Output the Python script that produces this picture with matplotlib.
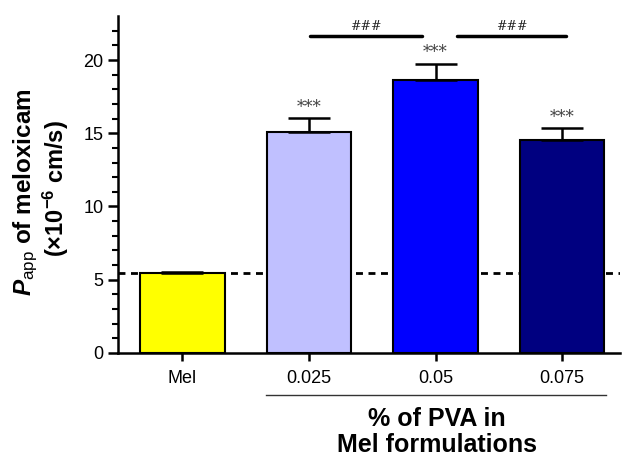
import numpy as np
import matplotlib
matplotlib.use('Agg')
import matplotlib.pyplot as plt

plt.rcParams['font.family'] = ['Liberation Sans', 'DejaVu Sans']
plt.rcParams['mathtext.fontset'] = 'custom'
plt.rcParams['mathtext.rm'] = 'Liberation Sans'
plt.rcParams['mathtext.bf'] = 'Liberation Sans:bold'
plt.rcParams['mathtext.it'] = 'Liberation Sans:italic'
plt.rcParams['mathtext.bfit'] = 'Liberation Sans:bold:italic'

# data
groups = ['Mel', '0.025', '0.05', '0.075']
papp = [5.45, 15.1, 18.65, 14.55]
papp_err = [0.1, 0.95, 1.1, 0.8]
colors = ['#FFFF00', '#C0C0FF', '#0000FF', '#000080']
stars = ['', '***', '***', '***']
baseline = 5.45
# significance bars between formulations
sig_x0 = [1.01, 2.17]
sig_x1 = [1.89, 3.03]
sig_y = 21.65
sig_labels = ['###', '###']

fig = plt.figure(figsize=(6.24, 4.59), dpi=100)
ax = fig.add_axes([0.189, 0.231, 0.805, 0.734])

x = np.arange(len(groups))
ax.axhline(baseline, color='black', lw=2, ls=(0, (2.5, 2)), zorder=1)
ax.bar(x, papp, width=0.67, color=colors, edgecolor='black', lw=1.5, zorder=2)
ax.errorbar(x, papp, yerr=[np.zeros(len(papp)), papp_err], fmt='none',
            ecolor='black', elinewidth=1.8, capsize=15, capthick=1.8, zorder=3)

for i, s in enumerate(stars):
    if s:
        ax.text(x[i], papp[i] + papp_err[i] + 0.15, s, ha='center', va='bottom',
                fontsize=12, color='#444444', family='DejaVu Serif')

for a, b, lab in zip(sig_x0, sig_x1, sig_labels):
    ax.plot([a, b], [sig_y, sig_y], color='black', lw=2.5,
            solid_capstyle='round', clip_on=False)
    ax.text((a + b) / 2, sig_y + 0.2, lab, ha='center', va='bottom', fontsize=9,
            color='#222222', family='DejaVu Serif')

ax.set_xlim(-0.51, 3.46)
ax.set_ylim(0, 23)
ax.set_yticks([0, 5, 10, 15, 20])
ax.set_yticks(np.arange(0, 23, 1), minor=True)
ax.set_xticks(x)
ax.set_xticklabels(groups, fontsize=13)
ax.tick_params(axis='y', labelsize=13, width=1.8, length=7)
ax.tick_params(axis='y', which='minor', width=1.5, length=4)
ax.tick_params(axis='x', width=1.8, length=6, pad=6)
for sp in ['top', 'right']:
    ax.spines[sp].set_visible(False)
for sp in ['left', 'bottom']:
    ax.spines[sp].set_linewidth(1.8)

# y label
fig.text(0.042, 0.582, r'$\mathbfit{P}_{\mathrm{app}}$' + ' of meloxicam',
         rotation=90, ha='center', va='center', fontsize=17.5, fontweight='bold')
fig.text(0.09, 0.59, r'(×10$^{\mathbf{-6}}$ cm/s)',
         rotation=90, ha='center', va='center', fontsize=17, fontweight='bold')

# x group label
fig.add_artist(plt.Line2D([266 / 624, 606 / 624], [1 - 395 / 459, 1 - 395 / 459],
                          color='#333333', lw=1))
fig.text(437 / 624, 1 - 432 / 459, '% of PVA in\nMel formulations', ha='center',
         va='center', fontsize=18, fontweight='bold', linespacing=1.15)

fig.savefig('out.png', dpi=100)
